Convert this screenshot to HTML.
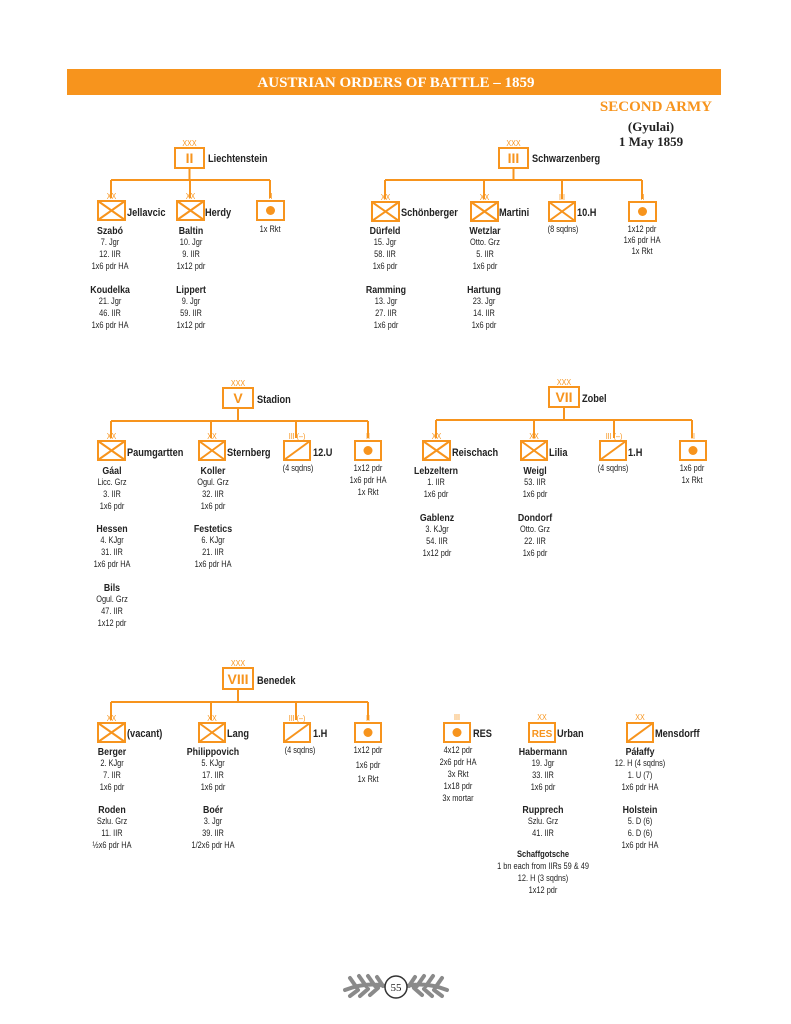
<!DOCTYPE html>
<html><head><meta charset="utf-8"><style>
html,body{margin:0;padding:0;background:#fff;}
svg{display:block;}
.t,.b,.e{transform-box:fill-box;transform-origin:center;transform:scaleX(0.84);}
.l{transform-box:fill-box;transform-origin:left center;transform:scaleX(0.84);}
.t{font-family:"Liberation Sans",sans-serif;font-size:8.8px;fill:#222;text-anchor:middle;}
.b{font-family:"Liberation Sans",sans-serif;font-size:10.5px;font-weight:bold;fill:#222;text-anchor:middle;}
.l{font-family:"Liberation Sans",sans-serif;font-size:11px;font-weight:bold;fill:#222;}
.e{font-family:"Liberation Sans",sans-serif;font-size:8.5px;fill:#f7941d;text-anchor:middle;}
.o{stroke:#f7941d;stroke-width:2;fill:none;}
.c{font-family:"Liberation Sans",sans-serif;font-size:14px;font-weight:bold;fill:#f7941d;text-anchor:middle;}
</style></head><body>
<svg width="791" height="1024" viewBox="0 0 791 1024" xmlns="http://www.w3.org/2000/svg">
<rect x="67" y="69" width="654" height="26" fill="#f7941d"/>
<text x="396" y="87" text-anchor="middle" font-family="Liberation Serif,serif" font-weight="bold" font-size="15" fill="#fff">AUSTRIAN ORDERS OF BATTLE – 1859</text>
<text x="712" y="111" text-anchor="end" font-family="Liberation Serif,serif" font-weight="bold" font-size="15" fill="#f7941d">SECOND ARMY</text>
<text x="651" y="131" text-anchor="middle" font-family="Liberation Serif,serif" font-weight="bold" font-size="13" fill="#222">(Gyulai)</text>
<text x="651" y="146" text-anchor="middle" font-family="Liberation Serif,serif" font-weight="bold" font-size="13" fill="#222">1 May 1859</text>

<!-- Corps II -->
<g class="o">
<rect x="175" y="148" width="29" height="20"/>
<path d="M189.5 168V180M111 180H270M111 180V198M190 180V198M270 180V198"/>
<rect x="98" y="201" width="27" height="19"/><path d="M98 201L125 220M125 201L98 220"/>
<rect x="177" y="201" width="27" height="19"/><path d="M177 201L204 220M204 201L177 220"/>
<rect x="257" y="201" width="27" height="19"/>
</g>
<circle cx="270.5" cy="210.5" r="4.5" fill="#f7941d"/>
<text class="c" x="189.5" y="163">II</text>
<text class="e" x="189.5" y="146">XXX</text><text class="e" x="111.5" y="199">XX</text><text class="e" x="190.5" y="199">XX</text><text class="e" x="270.5" y="199">II</text>
<text class="l" x="208" y="162">Liechtenstein</text>
<text class="l" x="127" y="216">Jellavcic</text><text class="l" x="205" y="216">Herdy</text>
<text class="t" x="270" y="232">1x Rkt</text>
<text class="b" x="110" y="234">Szabó</text><text class="t" x="110" y="245">7. Jgr</text><text class="t" x="110" y="257">12. IIR</text><text class="t" x="110" y="269">1x6 pdr HA</text>
<text class="b" x="110" y="293">Koudelka</text><text class="t" x="110" y="304">21. Jgr</text><text class="t" x="110" y="316">46. IIR</text><text class="t" x="110" y="328">1x6 pdr HA</text>
<text class="b" x="191" y="234">Baltin</text><text class="t" x="191" y="245">10. Jgr</text><text class="t" x="191" y="257">9. IIR</text><text class="t" x="191" y="269">1x12 pdr</text>
<text class="b" x="191" y="293">Lippert</text><text class="t" x="191" y="304">9. Jgr</text><text class="t" x="191" y="316">59. IIR</text><text class="t" x="191" y="328">1x12 pdr</text>

<!-- Corps III -->
<g class="o">
<rect x="499" y="148" width="29" height="20"/>
<path d="M513.5 168V180M385 180H642M385 180V199M484 180V199M562 180V199M642 180V199"/>
<rect x="372" y="202" width="27" height="19"/><path d="M372 202L399 221M399 202L372 221"/>
<rect x="471" y="202" width="27" height="19"/><path d="M471 202L498 221M498 202L471 221"/>
<rect x="549" y="202" width="26" height="19"/><path d="M549 202L575 221M575 202L549 221"/>
<rect x="629" y="202" width="27" height="19"/>
</g>
<circle cx="642.5" cy="211.5" r="4.5" fill="#f7941d"/>
<text class="c" x="513.5" y="163">III</text>
<text class="e" x="513.5" y="146">XXX</text><text class="e" x="385.5" y="200">XX</text><text class="e" x="484.5" y="200">XX</text><text class="e" x="562" y="200">III</text><text class="e" x="642.5" y="200">II</text>
<text class="l" x="532" y="162">Schwarzenberg</text>
<text class="l" x="401" y="216">Schönberger</text><text class="l" x="499" y="216">Martini</text><text class="l" x="577" y="216">10.H</text>
<text class="t" x="563" y="232">(8 sqdns)</text>
<text class="t" x="642" y="232">1x12 pdr</text><text class="t" x="642" y="243">1x6 pdr HA</text><text class="t" x="642" y="254">1x Rkt</text>
<text class="b" x="385" y="234">Dürfeld</text><text class="t" x="385" y="245">15. Jgr</text><text class="t" x="385" y="257">58. IIR</text><text class="t" x="385" y="269">1x6 pdr</text>
<text class="b" x="386" y="293">Ramming</text><text class="t" x="386" y="304">13. Jgr</text><text class="t" x="386" y="316">27. IIR</text><text class="t" x="386" y="328">1x6 pdr</text>
<text class="b" x="485" y="234">Wetzlar</text><text class="t" x="485" y="245">Otto. Grz</text><text class="t" x="485" y="257">5. IIR</text><text class="t" x="485" y="269">1x6 pdr</text>
<text class="b" x="484" y="293">Hartung</text><text class="t" x="484" y="304">23. Jgr</text><text class="t" x="484" y="316">14. IIR</text><text class="t" x="484" y="328">1x6 pdr</text>

<!-- Corps V -->
<g class="o">
<rect x="223" y="388" width="30" height="20"/>
<path d="M238 408V421M111 421H368M111 421V438M211 421V438M296 421V438M368 421V438"/>
<rect x="98" y="441" width="27" height="19"/><path d="M98 441L125 460M125 441L98 460"/>
<rect x="199" y="441" width="26" height="19"/><path d="M199 441L225 460M225 441L199 460"/>
<rect x="284" y="441" width="26" height="19"/><path d="M284 460L310 441"/>
<rect x="355" y="441" width="26" height="19"/>
</g>
<circle cx="368" cy="450.5" r="4.5" fill="#f7941d"/>
<text class="c" x="238" y="403">V</text>
<text class="e" x="238" y="386">XXX</text><text class="e" x="111.5" y="439">XX</text><text class="e" x="212" y="439">XX</text><text class="e" x="297" y="439">III (–)</text><text class="e" x="368" y="439">II</text>
<text class="l" x="257" y="403">Stadion</text>
<text class="l" x="127" y="456">Paumgartten</text><text class="l" x="227" y="456">Sternberg</text><text class="l" x="313" y="456">12.U</text>
<text class="t" x="298" y="471">(4 sqdns)</text>
<text class="t" x="368" y="471">1x12 pdr</text><text class="t" x="368" y="483">1x6 pdr HA</text><text class="t" x="368" y="495">1x Rkt</text>
<text class="b" x="112" y="474">Gáal</text><text class="t" x="112" y="485">Licc. Grz</text><text class="t" x="112" y="497">3. IIR</text><text class="t" x="112" y="509">1x6 pdr</text>
<text class="b" x="112" y="532">Hessen</text><text class="t" x="112" y="543">4. KJgr</text><text class="t" x="112" y="555">31. IIR</text><text class="t" x="112" y="567">1x6 pdr HA</text>
<text class="b" x="112" y="591">Bils</text><text class="t" x="112" y="602">Ogul. Grz</text><text class="t" x="112" y="614">47. IIR</text><text class="t" x="112" y="626">1x12 pdr</text>
<text class="b" x="213" y="474">Koller</text><text class="t" x="213" y="485">Ogul. Grz</text><text class="t" x="213" y="497">32. IIR</text><text class="t" x="213" y="509">1x6 pdr</text>
<text class="b" x="213" y="532">Festetics</text><text class="t" x="213" y="543">6. KJgr</text><text class="t" x="213" y="555">21. IIR</text><text class="t" x="213" y="567">1x6 pdr HA</text>

<!-- Corps VII -->
<g class="o">
<rect x="549" y="387" width="30" height="20"/>
<path d="M564 407V420M436 420H692M436 420V438M534 420V438M614 420V438M692 420V438"/>
<rect x="423" y="441" width="27" height="19"/><path d="M423 441L450 460M450 441L423 460"/>
<rect x="521" y="441" width="26" height="19"/><path d="M521 441L547 460M547 441L521 460"/>
<rect x="600" y="441" width="26" height="19"/><path d="M600 460L626 441"/>
<rect x="680" y="441" width="26" height="19"/>
</g>
<circle cx="693" cy="450.5" r="4.5" fill="#f7941d"/>
<text class="c" x="564" y="402">VII</text>
<text class="e" x="564" y="385">XXX</text><text class="e" x="436.5" y="439">XX</text><text class="e" x="534" y="439">XX</text><text class="e" x="614" y="439">III (–)</text><text class="e" x="693" y="439">II</text>
<text class="l" x="582" y="402">Zobel</text>
<text class="l" x="452" y="456">Reischach</text><text class="l" x="549" y="456">Lilia</text><text class="l" x="628" y="456">1.H</text>
<text class="t" x="613" y="471">(4 sqdns)</text>
<text class="t" x="692" y="471">1x6 pdr</text><text class="t" x="692" y="483">1x Rkt</text>
<text class="b" x="436" y="474">Lebzeltern</text><text class="t" x="436" y="485">1. IIR</text><text class="t" x="436" y="497">1x6 pdr</text>
<text class="b" x="437" y="521">Gablenz</text><text class="t" x="437" y="532">3. KJgr</text><text class="t" x="437" y="544">54. IIR</text><text class="t" x="437" y="556">1x12 pdr</text>
<text class="b" x="535" y="474">Weigl</text><text class="t" x="535" y="485">53. IIR</text><text class="t" x="535" y="497">1x6 pdr</text>
<text class="b" x="535" y="521">Dondorf</text><text class="t" x="535" y="532">Otto. Grz</text><text class="t" x="535" y="544">22. IIR</text><text class="t" x="535" y="556">1x6 pdr</text>

<!-- Corps VIII -->
<g class="o">
<rect x="223" y="668" width="30" height="21"/>
<path d="M238 689V702M111 702H368M111 702V720M211 702V720M296 702V720M368 702V720"/>
<rect x="98" y="723" width="27" height="19"/><path d="M98 723L125 742M125 723L98 742"/>
<rect x="199" y="723" width="26" height="19"/><path d="M199 723L225 742M225 723L199 742"/>
<rect x="284" y="723" width="26" height="19"/><path d="M284 742L310 723"/>
<rect x="355" y="723" width="26" height="19"/>
</g>
<circle cx="368" cy="732.5" r="4.5" fill="#f7941d"/>
<text class="c" x="238" y="684">VIII</text>
<text class="e" x="238" y="666">XXX</text><text class="e" x="111.5" y="721">XX</text><text class="e" x="212" y="721">XX</text><text class="e" x="297" y="721">III (–)</text><text class="e" x="368" y="721">II</text>
<text class="l" x="127" y="737">(vacant)</text><text class="l" x="227" y="737">Lang</text><text class="l" x="313" y="737">1.H</text>
<text class="l" x="257" y="684">Benedek</text>
<text class="t" x="300" y="753">(4 sqdns)</text>
<text class="t" x="368" y="753">1x12 pdr</text><text class="t" x="368" y="768">1x6 pdr</text><text class="t" x="368" y="782">1x Rkt</text>
<text class="b" x="112" y="755">Berger</text><text class="t" x="112" y="766">2. KJgr</text><text class="t" x="112" y="778">7. IIR</text><text class="t" x="112" y="790">1x6 pdr</text>
<text class="b" x="112" y="813">Roden</text><text class="t" x="112" y="824">Szlu. Grz</text><text class="t" x="112" y="836">11. IIR</text><text class="t" x="112" y="848">½x6 pdr HA</text>
<text class="b" x="213" y="755">Philippovich</text><text class="t" x="213" y="766">5. KJgr</text><text class="t" x="213" y="778">17. IIR</text><text class="t" x="213" y="790">1x6 pdr</text>
<text class="b" x="213" y="813">Boér</text><text class="t" x="213" y="824">3. Jgr</text><text class="t" x="213" y="836">39. IIR</text><text class="t" x="213" y="848">1/2x6 pdr HA</text>

<!-- Reserves -->
<g class="o">
<rect x="444" y="723" width="26" height="19"/>
<rect x="529" y="723" width="26" height="19"/>
<rect x="627" y="723" width="26" height="19"/><path d="M627 742L653 723"/>
</g>
<circle cx="457" cy="732.5" r="4.5" fill="#f7941d"/>
<text class="e" x="457" y="720">III</text><text class="e" x="542" y="720">XX</text><text class="e" x="640" y="720">XX</text>
<text x="542" y="737" text-anchor="middle" font-family="Liberation Sans,sans-serif" font-weight="bold" font-size="10" fill="#f7941d">RES</text>
<text class="l" x="473" y="737">RES</text><text class="l" x="557" y="737">Urban</text><text class="l" x="655" y="737">Mensdorff</text>
<text class="t" x="458" y="753">4x12 pdr</text><text class="t" x="458" y="765">2x6 pdr HA</text><text class="t" x="458" y="777">3x Rkt</text><text class="t" x="458" y="789">1x18 pdr</text><text class="t" x="458" y="801">3x mortar</text>
<text class="b" x="543" y="755">Habermann</text><text class="t" x="543" y="766">19. Jgr</text><text class="t" x="543" y="778">33. IIR</text><text class="t" x="543" y="790">1x6 pdr</text>
<text class="b" x="543" y="813">Rupprech</text><text class="t" x="543" y="824">Szlu. Grz</text><text class="t" x="543" y="836">41. IIR</text>
<text class="b" x="543" y="857" style="font-size:9px">Schaffgotsche</text><text class="t" x="543" y="869">1 bn each from IIRs 59 &amp; 49</text><text class="t" x="543" y="881">12. H (3 sqdns)</text><text class="t" x="543" y="893">1x12 pdr</text>
<text class="b" x="640" y="755">Páłaffy</text><text class="t" x="640" y="766">12. H (4 sqdns)</text><text class="t" x="640" y="778">1. U (7)</text><text class="t" x="640" y="790">1x6 pdr HA</text>
<text class="b" x="640" y="813">Holstein</text><text class="t" x="640" y="824">5. D (6)</text><text class="t" x="640" y="836">6. D (6)</text><text class="t" x="640" y="848">1x6 pdr HA</text>

<!-- footer -->
<g stroke="#8a8a8a" stroke-width="4" fill="none" stroke-linecap="round">
<path d="M345 990Q370 980 392 988M350 978l7 10M359 976l7 10M368 976l7 10M377 977l6 9M350 996l8 -6M360 996l8 -7M370 995l8 -7"/>
<path d="M447 990Q422 980 400 988M442 978l-7 10M433 976l-7 10M424 976l-7 10M415 977l-6 9M442 996l-8 -6M432 996l-8 -7M422 995l-8 -7"/>
</g>
<circle cx="396" cy="987" r="11" fill="#fff" stroke="#333" stroke-width="1.5"/>
<text x="396" y="991" text-anchor="middle" font-family="Liberation Serif,serif" font-size="11" fill="#222">55</text>
</svg>
</body></html>
